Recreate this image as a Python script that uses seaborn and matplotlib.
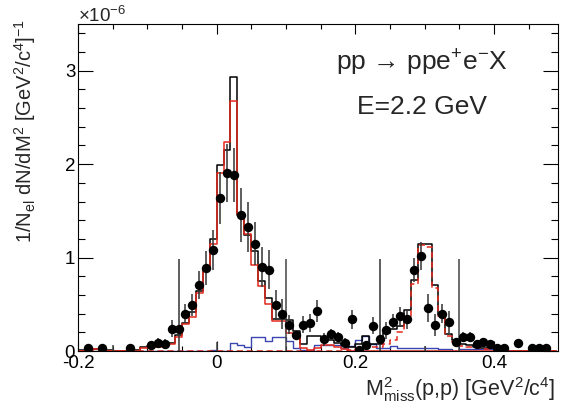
import numpy as np
import pandas as pd
import matplotlib
matplotlib.use('Agg')
import matplotlib.pyplot as plt
import seaborn as sns
from matplotlib.ticker import MultipleLocator, FixedLocator, FixedFormatter

# ---------------- data (units of 1e-6) ----------------
bin_lo = np.round(np.arange(-0.20, 0.485, 0.01), 2)   # lower bin edges

total_sim = [0.01, 0.02, 0.02, 0.02, 0.01, 0.005, 0.005, 0.005, 0.01, 0.04,
             0.05, 0.05, 0.09, 0.09, 0.17, 0.30, 0.42, 0.64, 0.89, 1.20,
             1.99, 2.15, 2.93, 1.46, 1.24, 1.07, 0.75, 0.57, 0.34, 0.34,
             0.33, 0.21, 0.08, 0.16, 0.16, 0.12, 0.12, 0.09, 0.06, 0.04,
             0.08, 0.16, 0.08, 0.07, 0.19, 0.24, 0.27, 0.44, 0.76, 1.15,
             1.14, 0.71, 0.38, 0.18, 0.12, 0.07, 0.06, 0.04, 0.03, 0.03,
             0.015, 0.01, 0.005, 0.005, 0.005, 0.005, 0.005, 0.005, 0.005]

pi0_sim = [0.0, 0.02, 0.02, 0.02, 0.0, 0.0, 0.0, 0.0, 0.0, 0.03,
           0.04, 0.04, 0.08, 0.08, 0.15, 0.29, 0.36, 0.62, 0.89, 1.14,
           1.90, 2.24, 2.68, 1.47, 1.25, 0.92, 0.70, 0.50, 0.32, 0.32,
           0.19, 0.17, 0.03, 0.01, 0.03, 0.06, 0.06, 0.04, 0.02, 0.0,
           0.0, 0.0, 0.0, 0.0, 0.0, 0.0, 0.0, 0.0, 0.0, 0.0,
           0.0, 0.0, 0.0, 0.0, 0.0, 0.0, 0.0, 0.0, 0.0, 0.0,
           0.0, 0.0, 0.0, 0.0, 0.0, 0.0, 0.0, 0.0, 0.0]

eta_sim = [0.0] * 39 + [0.01, 0.02, 0.03, 0.04, 0.04, 0.07, 0.12, 0.20, 0.35, 0.72,
                        1.13, 1.11, 0.67, 0.37, 0.16, 0.10, 0.05, 0.04, 0.03, 0.02,
                        0.02, 0.01, 0.0, 0.0, 0.0, 0.0, 0.0, 0.0, 0.0, 0.0]

other_sim = [0.0] * 19 + [0.01, 0.005, 0.0, 0.09, 0.06, 0.04, 0.15, 0.15, 0.11, 0.15,
                          0.15, 0.11, 0.03, 0.01, 0.01, 0.06, 0.06, 0.06, 0.06, 0.035,
                          0.05, 0.12, 0.16, 0.075, 0.03, 0.03, 0.05, 0.03, 0.03, 0.03,
                          0.03, 0.03, 0.03, 0.02, 0.02, 0.0, 0.02, 0.02, 0.02, 0.02,
                          0.02, 0.0, 0.0, 0.0, 0.0, 0.0, 0.0, 0.0, 0.0, 0.0]

data_x = [-0.185, -0.165, -0.125, -0.095, -0.085, -0.075, -0.065, -0.055, -0.045, -0.035,
          -0.025, -0.015, -0.005, 0.005, 0.015, 0.025, 0.035, 0.045, 0.055, 0.065,
          0.075, 0.085, 0.095, 0.105, 0.115, 0.125, 0.135, 0.145, 0.155, 0.165,
          0.175, 0.185, 0.195, 0.205, 0.215, 0.225, 0.235, 0.245, 0.255, 0.265,
          0.275, 0.285, 0.295, 0.305, 0.315, 0.325, 0.335, 0.345, 0.355, 0.365,
          0.375, 0.385, 0.395, 0.405, 0.415, 0.435, 0.455, 0.465, 0.475]
data_y = [0.03, 0.03, 0.03, 0.06, 0.09, 0.08, 0.24, 0.24, 0.40, 0.49,
          0.71, 0.89, 1.08, 1.64, 1.91, 1.88, 1.46, 1.33, 1.15, 0.90,
          0.87, 0.49, 0.40, 0.28, 0.17, 0.28, 0.30, 0.43, 0.125, 0.18,
          0.15, 0.085, 0.34, 0.01, 0.06, 0.27, 0.13, 0.22, 0.31, 0.37,
          0.34, 0.87, 1.02, 0.46, 0.28, 0.40, 0.31, 0.10, 0.15, 0.15,
          0.07, 0.10, 0.07, 0.035, 0.035, 0.09, 0.035, 0.035, 0.035]
data_err = [0.02, 0.02, 0.02, 0.04, 0.05, 0.05, 0.09, 0.75, 0.10, 0.12,
            0.15, 0.18, 0.21, 0.28, 0.31, 0.29, 0.29, 0.27, 0.23, 0.21,
            0.21, 0.16, 0.16, 0.10, 0.05, 0.09, 0.10, 0.12, 0.07, 0.06,
            0.05, 0.05, 0.10, 0.03, 0.04, 0.09, 0.86, 0.09, 0.09, 0.10,
            0.10, 0.13, 0.15, 0.15, 0.12, 0.10, 0.12, 0.04, 0.05, 0.05,
            0.03, 0.04, 0.03, 0.02, 0.02, 0.04, 0.02, 0.02, 0.02]

# empty bins with error bars only
empty_x = [-0.15, 0.0, 0.10, 0.30, 0.35]
empty_err = [0.06, 0.10, 0.99, 0.05, 0.99]

# ---------------- plot ----------------
sns.set_theme(style='ticks')
plt.rcParams['font.family'] = ['Liberation Sans', 'DejaVu Sans']
plt.rcParams['mathtext.fontset'] = 'custom'
plt.rcParams['mathtext.rm'] = 'Liberation Sans'
plt.rcParams['mathtext.it'] = 'Liberation Sans'
plt.rcParams['mathtext.bf'] = 'Liberation Sans'

fig = plt.figure(figsize=(5.62, 4.07), dpi=100)
ax = fig.add_axes([78 / 562, 1 - 351 / 407, 480 / 562, 327 / 407])

centers = bin_lo + 0.005

def hist(vals, color, lw, ls='-'):
    df = pd.DataFrame({'m2': centers, 'w': np.asarray(vals, dtype=float)})
    sns.histplot(data=df, x='m2', weights='w', binwidth=0.01,
                 binrange=(-0.2, 0.49), element='step', fill=False,
                 color=color, linewidth=lw, linestyle=ls, ax=ax)

hist(other_sim, '#3b46b0', 1.0)
hist(total_sim, 'black', 1.1)
hist(pi0_sim, '#e3281c', 1.1)
hist(eta_sim, '#e3281c', 1.1, ls=(0, (4, 2.5)))

ax.errorbar(empty_x, [0] * len(empty_x), yerr=empty_err, fmt='none',
            ecolor='#444444', elinewidth=1.1, capsize=0, zorder=4)
ax.errorbar(data_x, data_y, yerr=data_err, fmt='none',
            ecolor='#333333', elinewidth=1.1, capsize=0, zorder=4)
sns.scatterplot(x=data_x, y=data_y, color='black', s=46, edgecolor='black',
                linewidth=0, ax=ax, zorder=5)

ax.set_xlim(-0.2, 0.4925)
ax.set_ylim(0, 3.5)
ax.set_xlabel('')
ax.set_ylabel('')

ax.xaxis.set_major_locator(FixedLocator([-0.2, 0.0, 0.2, 0.4]))
ax.xaxis.set_major_formatter(FixedFormatter(['-0.2', '0', '0.2', '0.4']))
ax.xaxis.set_minor_locator(MultipleLocator(0.05))
ax.yaxis.set_major_locator(FixedLocator([0, 1, 2, 3]))
ax.yaxis.set_major_formatter(FixedFormatter(['0', '1', '2', '3']))
ax.yaxis.set_minor_locator(MultipleLocator(0.2))

ax.tick_params(axis='both', which='both', direction='in', top=True, right=True,
               width=0.8, colors='black', labelsize=13.5)
ax.tick_params(axis='x', which='major', length=7, pad=3)
ax.tick_params(axis='x', which='minor', length=3.8)
ax.tick_params(axis='y', which='major', length=10.5, pad=2)
ax.tick_params(axis='y', which='minor', length=5.3)
for s in ax.spines.values():
    s.set_linewidth(0.8)
    s.set_color('black')

fig.text(78 / 562, 1 - 22 / 407, r'$\times$10$^{-6}$', fontsize=13.5,
         ha='left', va='baseline')
fig.text(422 / 562, 1 - 63 / 407, 'pp \u2192 ppe$^{+}$e$^{-}$X', fontsize=19,
         ha='center', va='center')
fig.text(422 / 562, 1 - 107 / 407, 'E=2.2 GeV', fontsize=19,
         ha='center', va='center')
fig.text(555 / 562, 1 - 390 / 407, r'M$^{2}_{\rm miss}$(p,p) [GeV$^{2}$/c$^{4}$]',
         fontsize=15.5, ha='right', va='center')
fig.text(25 / 562, 1 - 19 / 407, r'1/N$_{\rm el}$ dN/dM$^{2}$ [GeV$^{2}$/c$^{4}$]$^{-1}$',
         fontsize=14.5, ha='center', va='top', rotation=90)

fig.savefig('out.png', dpi=100)
